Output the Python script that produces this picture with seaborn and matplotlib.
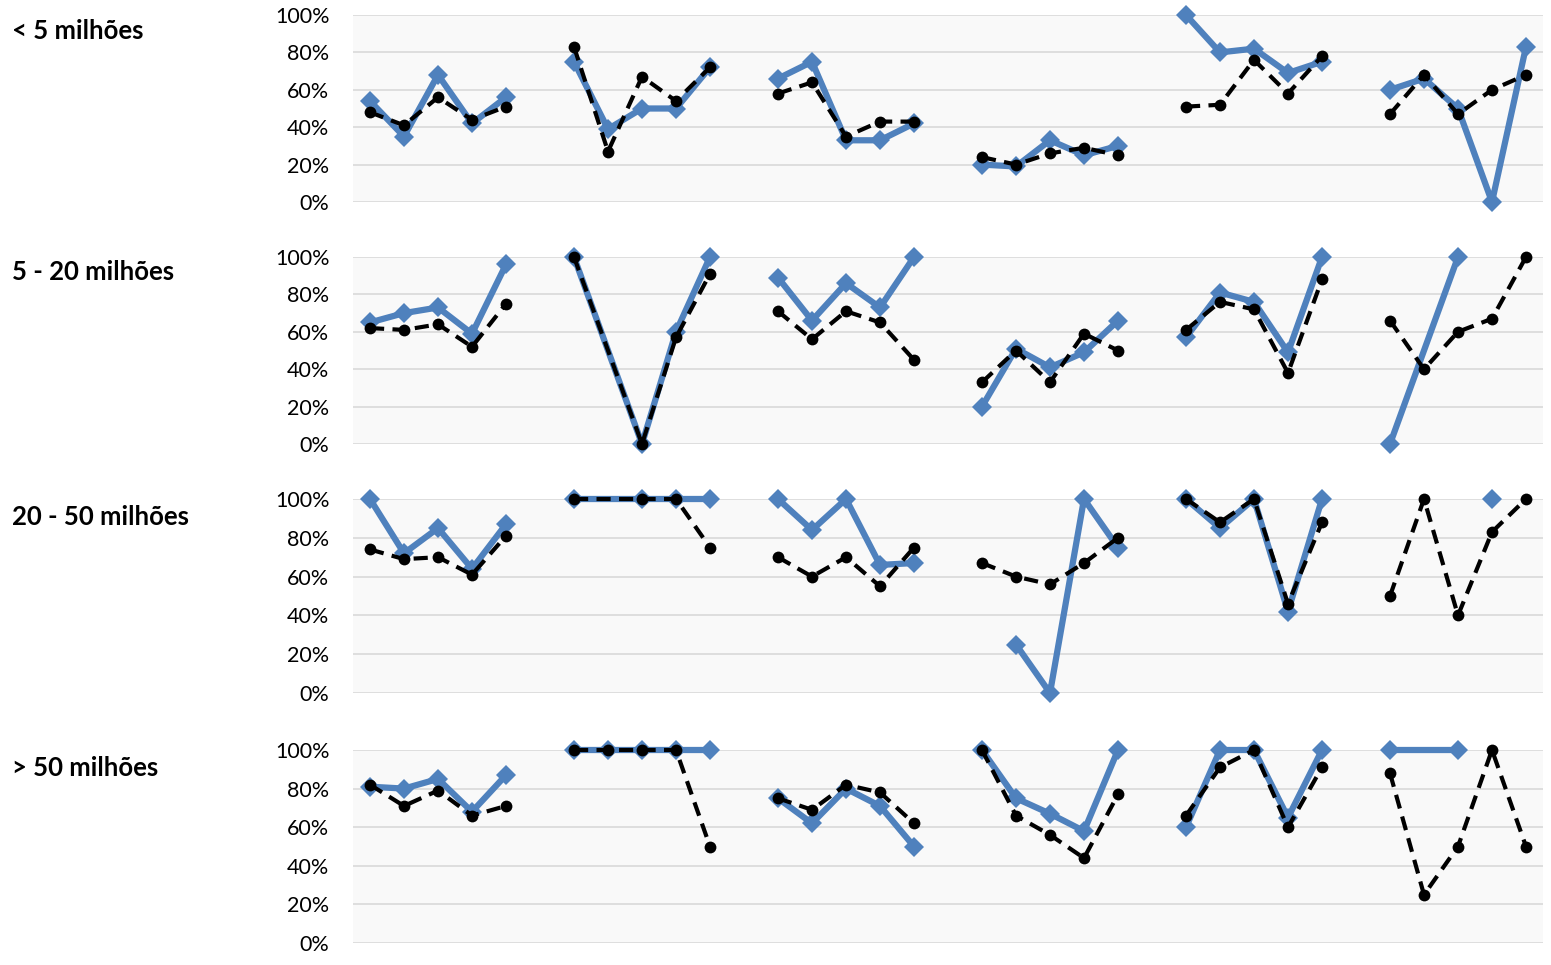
import numpy as np
import pandas as pd
import matplotlib
matplotlib.use("Agg")
import matplotlib.pyplot as plt
import seaborn as sns
from matplotlib.ticker import FuncFormatter

nan = np.nan

row_labels = ["< 5 milhões", "5 - 20 milhões", "20 - 50 milhões", "> 50 milhões"]

blue_lt5 = [[54, 35, 68, 42, 56], [75, 39, 50, 50, 72], [66, 75, 33, 33, 42],
            [20, 19, 33, 25, 30], [100, 80, 82, 69, 75], [60, 66, 50, 0, 83]]
black_lt5 = [[48, 41, 56, 44, 51], [83, 27, 67, 54, 72], [58, 64, 35, 43, 43],
             [24, 20, 26, 29, 25], [51, 52, 76, 58, 78], [47, 68, 47, 60, 68]]

blue_5_20 = [[65, 70, 73, 59, 96], [100, nan, 0, 60, 100], [89, 66, 86, 73, 100],
             [20, 51, 41, 49, 66], [57, 81, 76, 49, 100], [0, nan, 100, nan, nan]]
black_5_20 = [[62, 61, 64, 52, 75], [100, nan, 0, 57, 91], [71, 56, 71, 65, 45],
              [33, 50, 33, 59, 50], [61, 76, 72, 38, 88], [66, 40, 60, 67, 100]]

blue_20_50 = [[100, 72, 85, 64, 87], [100, nan, 100, 100, 100], [100, 84, 100, 66, 67],
              [nan, 25, 0, 100, 75], [100, 85, 100, 42, 100], [nan, nan, nan, 100, nan]]
black_20_50 = [[74, 69, 70, 61, 81], [100, nan, 100, 100, 75], [70, 60, 70, 55, 75],
               [67, 60, 56, 67, 80], [100, 88, 100, 46, 88], [50, 100, 40, 83, 100]]

blue_gt50 = [[81, 80, 85, 68, 87], [100, 100, 100, 100, 100], [75, 62, 80, 71, 50],
             [100, 75, 67, 58, 100], [60, 100, 100, 65, 100], [100, nan, 100, nan, nan]]
black_gt50 = [[82, 71, 79, 66, 71], [100, 100, 100, 100, 50], [75, 69, 82, 78, 62],
              [100, 66, 56, 44, 77], [66, 91, 100, 60, 91], [88, 25, 50, 100, 50]]

rows = [(blue_lt5, black_lt5), (blue_5_20, black_5_20),
        (blue_20_50, black_20_50), (blue_gt50, black_gt50)]

BLUE = "#4f81bd"
W, H = 1551, 965

sns.set_theme(style="white")
plt.rcParams['font.family'] = ['Lato', 'DejaVu Sans']

fig = plt.figure(figsize=(W / 100, H / 100), dpi=100)

# (top_px, bottom_px) of each panel (100% and 0% gridlines)
panel_px = [(15, 202), (257, 444), (499, 693), (750, 943)]
left_px, right_px = 353, 1543
label_y = [31, 272, 517, 768]


def to_long(groups, series):
    recs = []
    for g, vals in enumerate(groups):
        for i, v in enumerate(vals):
            recs.append({"slot": g * 6 + i, "group": g, "value": v / 100.0, "series": series})
    return pd.DataFrame(recs).dropna()


for r, ((blue, black), (tp, bp)) in enumerate(zip(rows, panel_px)):
    ax = fig.add_axes([left_px / W, 1 - bp / H, (right_px - left_px) / W, (bp - tp) / H])
    ax.set_facecolor("#f9f9f9")
    dfb = to_long(blue, "blue")
    dfk = to_long(black, "black")
    sns.lineplot(data=dfb, x="slot", y="value", units="group", estimator=None,
                 color=BLUE, linewidth=4.5, marker="D", markersize=10.5,
                 markeredgewidth=0, clip_on=False, ax=ax, legend=False,
                 sort=True, zorder=3)
    sns.lineplot(data=dfk, x="slot", y="value", units="group", estimator=None,
                 color="black", linewidth=3.0, linestyle=(0, (3.4, 2.0)),
                 marker="o", markersize=8.5, markeredgewidth=0,
                 clip_on=False, ax=ax, legend=False, sort=True, zorder=4)
    ax.set_xlim(-0.5, 34.5)
    ax.set_ylim(0, 1)
    ax.set_yticks(np.arange(0, 1.01, 0.2))
    ax.yaxis.set_major_formatter(FuncFormatter(lambda v, p: f"{v*100:.0f}%"))
    ax.set_xticks([])
    ax.set_xlabel("")
    ax.set_ylabel("")
    ax.grid(axis="y", color="#d9d9d9", linewidth=1.2)
    ax.set_axisbelow(True)
    for s in ax.spines.values():
        s.set_visible(False)
    ax.tick_params(axis="y", length=0, pad=17, labelsize=15.5, labelcolor="black")
    fig.text(12 / W, 1 - label_y[r] / H, row_labels[r], fontsize=18.5, fontweight="bold",
             ha="left", va="center", color="black")

fig.savefig("out.png", dpi=100, facecolor="white")
